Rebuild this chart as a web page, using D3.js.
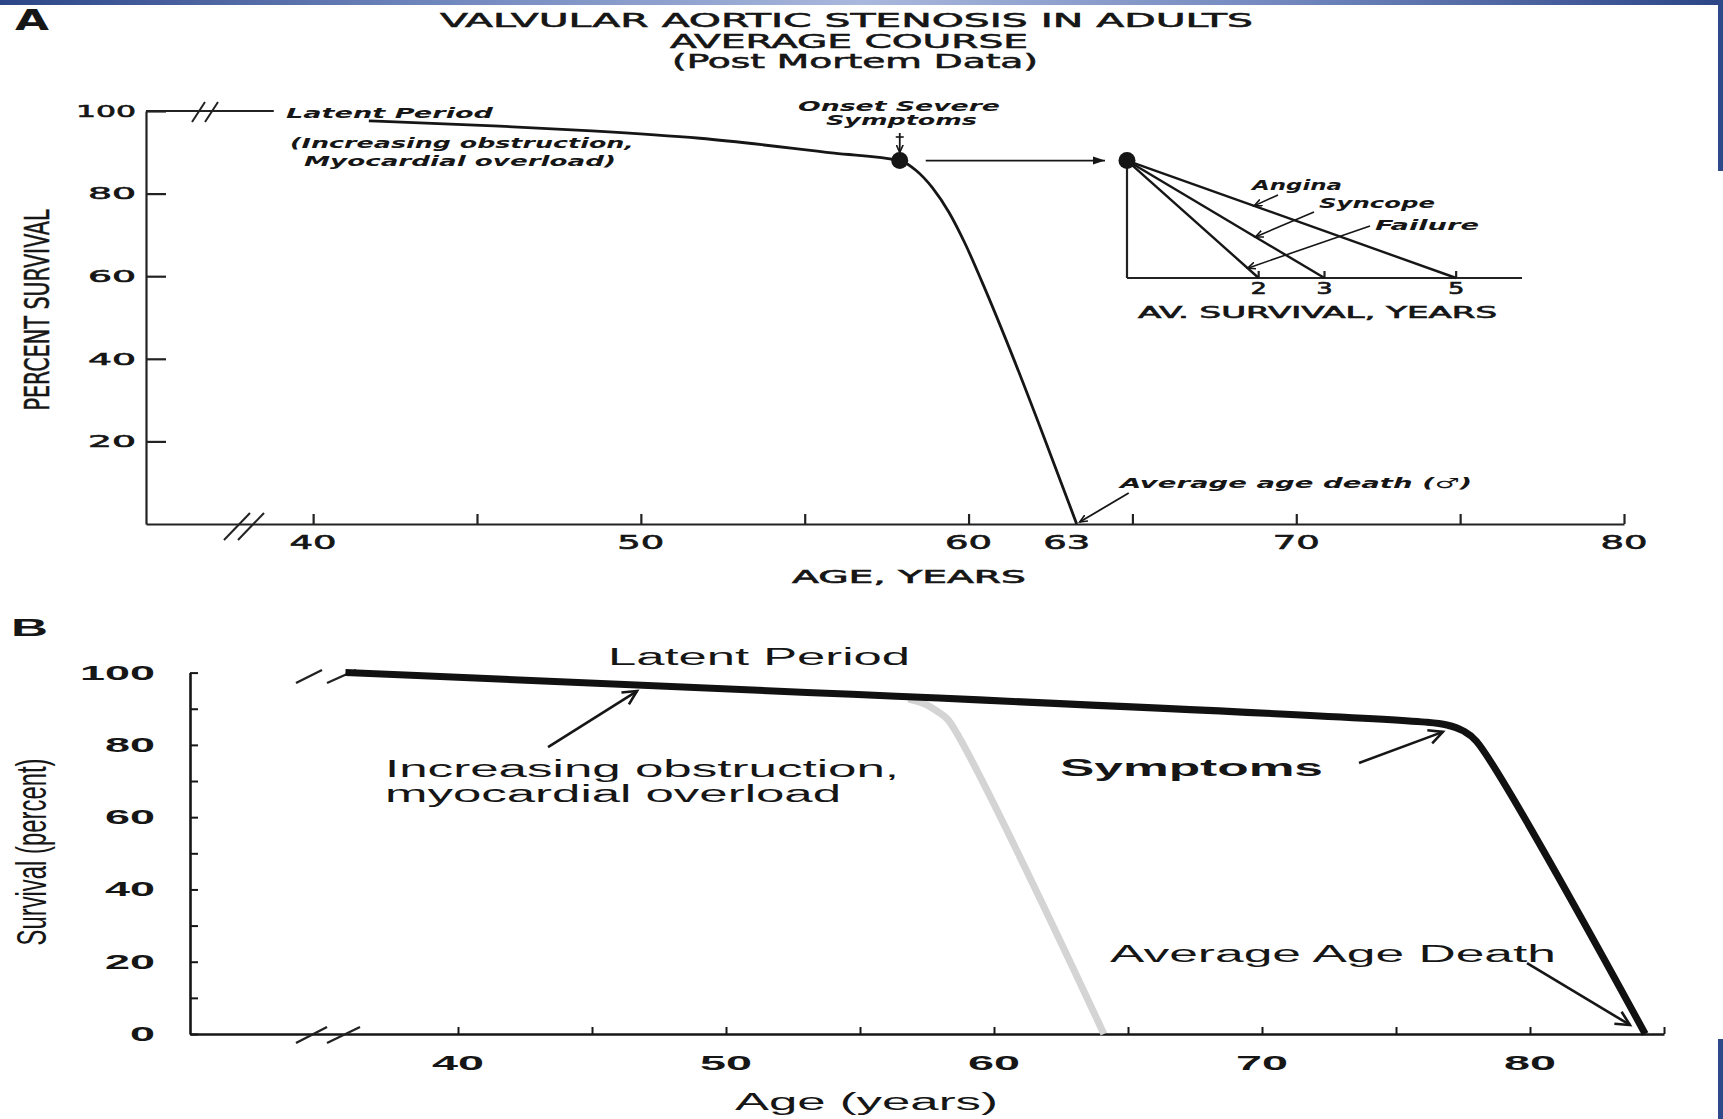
<!DOCTYPE html>
<html><head><meta charset="utf-8">
<script src="https://cdn.jsdelivr.net/npm/d3@7/dist/d3.min.js"></script>
<style>html,body{margin:0;padding:0;background:#fff;overflow:hidden}svg{display:block}</style>
</head><body>
<svg id="chart" width="1723" height="1119" xmlns="http://www.w3.org/2000/svg"></svg>
<script>
// ================= DATA =================
// Panel A
const titleLinesA = ["VALVULAR  AORTIC  STENOSIS  IN  ADULTS", "AVERAGE  COURSE", "(Post  Mortem  Data)"];
const ageTicksA = [40, 45, 50, 55, 60, 65, 70, 75, 80];
const ageLabelsA = [40, 50, 60, 63, 70, 80];
const survivalTicksA = [20, 40, 60, 80, 100];
const initialSurvivalA = [[34.9, 100], [38.8, 100]];
const courseA = [[41.7, 97.6], [45.5, 96.4], [48.5, 95.2], [51.8, 93.4], [55.9, 89.8], [57.9, 88],
                 [58.4, 85.6], [58.9, 81.4], [59.4, 75.5], [59.9, 67.8], [60.4, 58.8],
                 [61.4, 39.5], [62.35, 20], [63.3, 0]];
const symptomOnsetA = [57.9, 88];
const symptomNamesA = ["Angina", "Syncope", "Failure"];
const symptomSurvivalYearsA = [5, 3, 2];
const insetTicksA = [2, 3, 5];
// Panel B
const ageTicksB = [40, 45, 50, 55, 60, 65, 70, 75, 80, 85];
const ageLabelsB = [40, 50, 60, 70, 80];
const survivalTicksB = [0, 10, 20, 30, 40, 50, 60, 70, 80, 90, 100];
const survivalLabelsB = [0, 20, 40, 60, 80, 100];
const courseB = [[35.8, 100], [76.1, 86.3], [76.9, 85.5], [77.5, 83.9], [78.0, 81.0], [84.3, 0]];
const earlierCourseB = [[56.8, 92.7], [57.4, 91.4], [57.9, 89.2], [58.3, 86.8], [64.1, 0]];

// ================= SETUP =================
const svg = d3.select("#chart");
const defs = svg.append("defs");
const fontA = "'DejaVu Sans', sans-serif";
const fontTitle = "'DejaVu Sans Condensed','DejaVu Sans',sans-serif";
const fontB = "'Liberation Sans', Arial, sans-serif";
const ink = "#161616";

svg.append("rect").attr("width", 1723).attr("height", 1119).attr("fill", "#ffffff");

// slide frame
const grad = defs.append("linearGradient").attr("id", "topbar").attr("x1", 0).attr("x2", 1).attr("y1", 0).attr("y2", 0);
[[0, "#2c4586"], [0.25, "#6f86bd"], [0.5, "#a9b8dc"], [0.75, "#7086bd"], [1, "#2c4586"]]
  .forEach(([o, c]) => grad.append("stop").attr("offset", o).attr("stop-color", c));
svg.append("rect").attr("x", 0).attr("y", 0).attr("width", 1723).attr("height", 5).attr("fill", "url(#topbar)");
svg.append("rect").attr("x", 1718).attr("y", 0).attr("width", 5).attr("height", 171).attr("fill", "#2f4a8a");
svg.append("rect").attr("x", 1718).attr("y", 1039).attr("width", 5).attr("height", 80).attr("fill", "#2f4a8a");

// markers
defs.append("marker").attr("id", "headA").attr("markerUnits", "userSpaceOnUse")
  .attr("markerWidth", 14).attr("markerHeight", 10).attr("refX", 12).attr("refY", 5).attr("orient", "auto")
  .append("path").attr("d", "M0,1 L12,5 L0,9 Z").attr("fill", ink);
defs.append("marker").attr("id", "headSmall").attr("markerUnits", "userSpaceOnUse")
  .attr("markerWidth", 10).attr("markerHeight", 8).attr("refX", 8).attr("refY", 4).attr("orient", "auto")
  .append("path").attr("d", "M0,0.5 L8,4 L0,7.5").attr("fill", "none").attr("stroke", ink).attr("stroke-width", 1.6);
defs.append("marker").attr("id", "headB").attr("markerUnits", "userSpaceOnUse")
  .attr("markerWidth", 22).attr("markerHeight", 22).attr("refX", 17).attr("refY", 11).attr("orient", "auto")
  .style("overflow", "visible")
  .append("path").attr("d", "M3,4 L17,11 L3,18").attr("fill", "none").attr("stroke", ink).attr("stroke-width", 2.6);

function txt(g, o) {
  const t = g.append("text").attr("x", o.x).attr("y", o.y).text(o.text)
    .attr("font-family", o.family).attr("font-size", o.size)
    .attr("font-weight", o.weight || "normal").attr("font-style", o.style || "normal")
    .attr("text-anchor", o.anchor || "start").attr("fill", o.fill || ink);
  if (o.len) t.attr("textLength", o.len).attr("lengthAdjust", "spacingAndGlyphs");
  if (o.rotate) t.attr("transform", `rotate(${o.rotate},${o.x},${o.y})`);
  if (o.stroke) t.attr("stroke", o.fill || ink).attr("stroke-width", o.stroke);
  return t;
}
const digitsLen = (s, w, narrowOne) => [...String(s)].reduce((a, c) => a + (narrowOne && c === "1" ? w * 0.5 : w), 0);
function seg(g, p0, p1, sw, marker, color) {
  const l = g.append("line").attr("x1", p0[0]).attr("y1", p0[1]).attr("x2", p1[0]).attr("y2", p1[1])
    .attr("stroke", color || ink).attr("stroke-width", sw);
  if (marker) l.attr("marker-end", `url(#${marker})`);
  return l;
}

// ================= PANEL A =================
const gA = svg.append("g");
const xA = d3.scaleLinear().domain([34.9, 80]).range([146, 1624]);
const yA = d3.scaleLinear().domain([0, 100]).range([524, 111]);

txt(gA, {x: 15, y: 30, text: "A", family: fontTitle, size: 29, weight: "bold", len: 34});
const titleX = [440, 670, 672], titleY = [27, 48, 68], titleLen = [813, 358, 366];
titleLinesA.forEach((s, i) => txt(gA, {x: titleX[i], y: titleY[i], text: s, family: fontTitle, size: 19,
  len: titleLen[i], stroke: 0.5}));

// axes
const yAxisA = gA.append("g").attr("transform", `translate(${xA.range()[0]},0)`)
  .call(d3.axisLeft(yA).tickValues(survivalTicksA).tickSize(-20).tickSizeOuter(0).tickPadding(10));
yAxisA.selectAll("text").attr("font-family", fontA).attr("font-size", 16.5).attr("fill", ink)
  .attr("stroke", ink).attr("stroke-width", 0.6)
  .attr("textLength", d => digitsLen(d, 24, true)).attr("lengthAdjust", "spacingAndGlyphs");
const xAxisA = gA.append("g").attr("transform", `translate(0,${yA(0)})`)
  .call(d3.axisBottom(xA).tickValues(ageTicksA).tickSize(-10).tickSizeOuter(0).tickFormat(""));
[yAxisA, xAxisA].forEach(a => a.selectAll("path,line").attr("stroke", "#222").attr("stroke-width", 2.2));
ageLabelsA.forEach(v => txt(gA, {x: xA(v), y: 549, text: String(v), family: fontA, size: 19, anchor: "middle",
  len: digitsLen(v, 23.5, false), stroke: 0.6}));
txt(gA, {x: 792, y: 583, text: "AGE, YEARS", family: fontA, size: 18, len: 234, stroke: 0.6});
txt(gA, {x: 49, y: 310, text: "PERCENT  SURVIVAL", family: fontTitle, size: 33, anchor: "middle", len: 201,
  rotate: -90, stroke: 0.5});

// axis breaks
function breakMarks(g, pts, sw) { pts.forEach(p => seg(g, p[0], p[1], sw, null, "#222")); }
breakMarks(gA, [[[224, 540], [250, 513]], [[238, 540], [264, 513]]], 2);

const lineA = d3.line().x(d => xA(d[0])).y(d => yA(d[1]));
gA.append("path").attr("d", lineA(initialSurvivalA)).attr("fill", "none").attr("stroke", "#222").attr("stroke-width", 2.2);
breakMarks(gA, [[[192, 122], [205, 102]], [[205, 122], [218, 102]]], 2);
gA.append("path").attr("d", lineA.curve(d3.curveMonotoneX)(courseA)).attr("fill", "none")
  .attr("stroke", ink).attr("stroke-width", 2.8);
gA.append("circle").attr("cx", xA(symptomOnsetA[0])).attr("cy", yA(symptomOnsetA[1])).attr("r", 8.5).attr("fill", ink);

// annotations A
const itA = {family: fontA, size: 14, weight: "bold", style: "italic"};
txt(gA, {...itA, x: 286, y: 118, text: "Latent  Period", len: 207});
txt(gA, {...itA, x: 290, y: 148, text: "(Increasing  obstruction,", len: 344});
txt(gA, {...itA, x: 304, y: 166, text: "Myocardial  overload)", len: 312});
txt(gA, {...itA, x: 798, y: 111, text: "Onset  Severe", len: 202});
txt(gA, {...itA, x: 826, y: 125, text: "Symptoms", len: 151});
txt(gA, {...itA, x: 1120, y: 488, text: "Average  age  death  (\u2642)", len: 352});
const onsetPx = [xA(symptomOnsetA[0]), yA(symptomOnsetA[1])];
seg(gA, [onsetPx[0], 133], [onsetPx[0], onsetPx[1] - 8], 1.8, "headSmall");
seg(gA, [onsetPx[0] - 4, 137], [onsetPx[0] + 4, 137], 1.6);
seg(gA, [xA(63.3) + 52, yA(7.5)], [xA(63.3) + 3, yA(0) - 2], 1.8, "headSmall");

// inset
const xIn = d3.scaleLinear().domain([0, 6]).range([1127, 1522]);
const yIn = d3.scaleLinear().domain([0, 100]).range([278, onsetPx[1]]);
seg(gA, [onsetPx[0] + 26, onsetPx[1]], [xIn(0) - 22, onsetPx[1]], 1.8, "headA");
const insetAxis = gA.append("g");
seg(insetAxis, [xIn(0), yIn(100)], [xIn(0), yIn(0)], 2.2, null, "#222");
seg(insetAxis, [xIn(0), yIn(0)], [xIn(6), yIn(0)], 2.2, null, "#222");
insetTicksA.forEach(t => {
  seg(insetAxis, [xIn(t), yIn(0)], [xIn(t), yIn(0) - 7], 2.2, null, "#222");
  txt(insetAxis, {x: xIn(t), y: 294, text: String(t), family: fontA, size: 16, anchor: "middle", len: 16, stroke: 0.7});
});
txt(insetAxis, {x: 1138, y: 318, text: "AV.  SURVIVAL,  YEARS", family: fontA, size: 15, len: 359, stroke: 0.6});
symptomSurvivalYearsA.forEach(yrs => seg(gA, [xIn(0), yIn(100)], [xIn(yrs), yIn(0)], 2.4));
gA.append("circle").attr("cx", xIn(0)).attr("cy", yIn(100)).attr("r", 8.5).attr("fill", ink);
const onLine = (yrs, t) => [xIn(yrs * t), yIn(100 * (1 - t))];
const labelPos = [[1252, 190, 90], [1319, 208, 116], [1375, 230, 104]];
const leaderStart = [[1278, 195], [1314, 212], [1370, 226]];
const leaderT = [0.386, 0.65, 0.916];
symptomNamesA.forEach((n, i) => {
  txt(gA, {...itA, x: labelPos[i][0], y: labelPos[i][1], text: n, len: labelPos[i][2]});
  seg(gA, leaderStart[i], onLine(symptomSurvivalYearsA[i], leaderT[i]), 1.6, "headSmall");
});

// ================= PANEL B =================
const gB = svg.append("g");
const xB = d3.scaleLinear().domain([30, 85]).range([190, 1664]);
const yB = d3.scaleLinear().domain([0, 100]).range([1034, 672.6]);

txt(gB, {x: 11, y: 636, text: "B", family: fontB, size: 24, weight: "bold", len: 37});
const yAxisB = gB.append("g").attr("transform", `translate(${xB.range()[0]},0)`)
  .call(d3.axisLeft(yB).tickValues(survivalTicksB).tickSize(-8).tickSizeOuter(0).tickFormat(""));
const xAxisB = gB.append("g").attr("transform", `translate(0,${yB(0)})`)
  .call(d3.axisBottom(xB).tickValues(ageTicksB).tickSize(-7).tickSizeOuter(0).tickFormat(""));
[yAxisB, xAxisB].forEach(a => { a.select(".domain").attr("stroke", ink).attr("stroke-width", 2.6);
  a.selectAll(".tick line").attr("stroke", ink).attr("stroke-width", 2); });
survivalLabelsB.forEach(v => txt(gB, {x: 155, y: yB(v) + 7, text: String(v), family: fontB, size: 20,
  weight: "bold", anchor: "end", len: digitsLen(v, 25, false)}));
ageLabelsB.forEach(v => txt(gB, {x: xB(v), y: 1070, text: String(v), family: fontB, size: 21,
  weight: "bold", anchor: "middle", len: digitsLen(v, 26, false)}));
txt(gB, {x: 735, y: 1110, text: "Age (years)", family: fontB, size: 23, len: 263});
txt(gB, {x: 46, y: 852, text: "Survival (percent)", family: fontB, size: 42, anchor: "middle", len: 187, rotate: -90});

breakMarks(gB, [[[296, 1043], [327, 1027]], [[327, 1043], [360, 1027]]], 2.4);
breakMarks(gB, [[[296, 683], [322, 670]], [[327, 683], [356, 670]]], 2.4);

const lineB = d3.line().x(d => xB(d[0])).y(d => yB(d[1])).curve(d3.curveCatmullRom.alpha(0.5));
gB.append("path").attr("d", lineB(earlierCourseB)).attr("fill", "none").attr("stroke", "#d4d4d4")
  .attr("stroke-width", 7).attr("stroke-linejoin", "round");
gB.append("path").attr("d", lineB(courseB)).attr("fill", "none").attr("stroke", "#111")
  .attr("stroke-width", 7).attr("stroke-linejoin", "round");

txt(gB, {x: 608, y: 665, text: "Latent Period", family: fontB, size: 23, len: 302});
txt(gB, {x: 385, y: 777, text: "Increasing obstruction,", family: fontB, size: 23, len: 514});
txt(gB, {x: 385, y: 802, text: "myocardial overload", family: fontB, size: 23, len: 456});
txt(gB, {x: 1060, y: 776, text: "Symptoms", family: fontB, size: 23, weight: "bold", len: 263});
txt(gB, {x: 1110, y: 962, text: "Average Age Death", family: fontB, size: 23, len: 446});
const pB = (a, s) => [xB(a), yB(s)];
seg(gB, pB(43.36, 79.4), pB(46.68, 94.9), 2.6, "headB");
seg(gB, pB(73.62, 75.0), pB(76.75, 83.6), 2.6, "headB");
seg(gB, pB(79.89, 19.6), pB(83.73, 2.5), 2.6, "headB");
</script>
</body></html>
